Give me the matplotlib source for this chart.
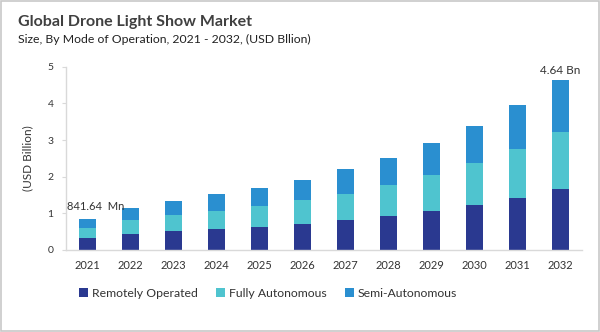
import matplotlib
matplotlib.use("Agg")
import matplotlib.pyplot as plt
import numpy as np
from matplotlib.patches import Rectangle

years = ["2021", "2022", "2023", "2024", "2025", "2026",
         "2027", "2028", "2029", "2030", "2031", "2032"]
remotely_operated = [0.34, 0.44, 0.51, 0.57, 0.63, 0.72, 0.81, 0.94, 1.07, 1.23, 1.43, 1.67]
fully_autonomous = [0.25, 0.38, 0.44, 0.49, 0.56, 0.64, 0.73, 0.83, 0.97, 1.14, 1.32, 1.56]
semi_autonomous = [0.25, 0.33, 0.40, 0.46, 0.51, 0.55, 0.66, 0.75, 0.87, 1.00, 1.20, 1.41]
series_names = ["Remotely Operated", "Fully Autonomous", "Semi-Autonomous"]
first_label = "841.64  Mn"
last_label = "4.64 Bn"

# palette
C_DARK = "#2a3990"
C_CYAN = "#4fc4cf"
C_BLUE = "#2a8fd0"
GRID = "#d9d9d9"
TXT = "#333333"

plt.rcParams["font.family"] = ["Lato", "DejaVu Sans"]

fig = plt.figure(figsize=(6.0, 3.32), dpi=100)
fig.patches.append(Rectangle((0.002, 0.003), 0.996, 0.994, transform=fig.transFigure,
                             fill=False, edgecolor="#c8c8c8", linewidth=1.2))

ax = fig.add_axes([0.11, 0.247, 0.86, 0.552])
x = np.arange(len(years))
w = 0.40
r = np.array(remotely_operated)
f = np.array(fully_autonomous)
s = np.array(semi_autonomous)
ax.bar(x, r, w, color=C_DARK, label=series_names[0])
ax.bar(x, f, w, bottom=r, color=C_CYAN, label=series_names[1])
ax.bar(x, s, w, bottom=r + f, color=C_BLUE, label=series_names[2])

ax.set_xlim(-0.5, 11.5)
ax.set_ylim(0, 5)
ax.set_xticks(x)
ax.set_xticklabels(years)
ax.set_yticks(range(6))
ax.tick_params(axis="x", length=0, pad=7, labelsize=8, colors=TXT)
ax.tick_params(axis="y", length=3, width=0.8, color=GRID, pad=6, labelsize=7.5, colors=TXT)
for side in ("top", "right"):
    ax.spines[side].set_visible(False)
for side in ("left", "bottom"):
    ax.spines[side].set_color(GRID)
    ax.spines[side].set_linewidth(1.0)
ax.set_ylabel("(USD Billion)", fontsize=8.5, color=TXT, labelpad=10)

totals = r + f + s
ax.text(x[0] - 0.47, totals[0] + 0.2, first_label, ha="left", va="bottom",
        fontsize=8, color=TXT)
ax.text(x[-1], totals[-1] + 0.1, last_label, ha="center", va="bottom",
        fontsize=8.5, color=TXT)

fig.text(0.03, 0.935, "Global Drone Light Show Market", fontsize=11.5,
         fontweight="bold", color="#404040", va="center")
fig.text(0.03, 0.88, "Size, By Mode of Operation, 2021 - 2032, (USD Bllion)",
         fontsize=8.8, color="#222222", va="center")

fig.legend(loc="center", bbox_to_anchor=(0.447, 0.117), ncol=3, frameon=False,
           fontsize=8.8, handlelength=0.7, handleheight=0.7, handletextpad=0.35,
           columnspacing=1.5, labelcolor=TXT)

fig.savefig("out.png", dpi=100)
